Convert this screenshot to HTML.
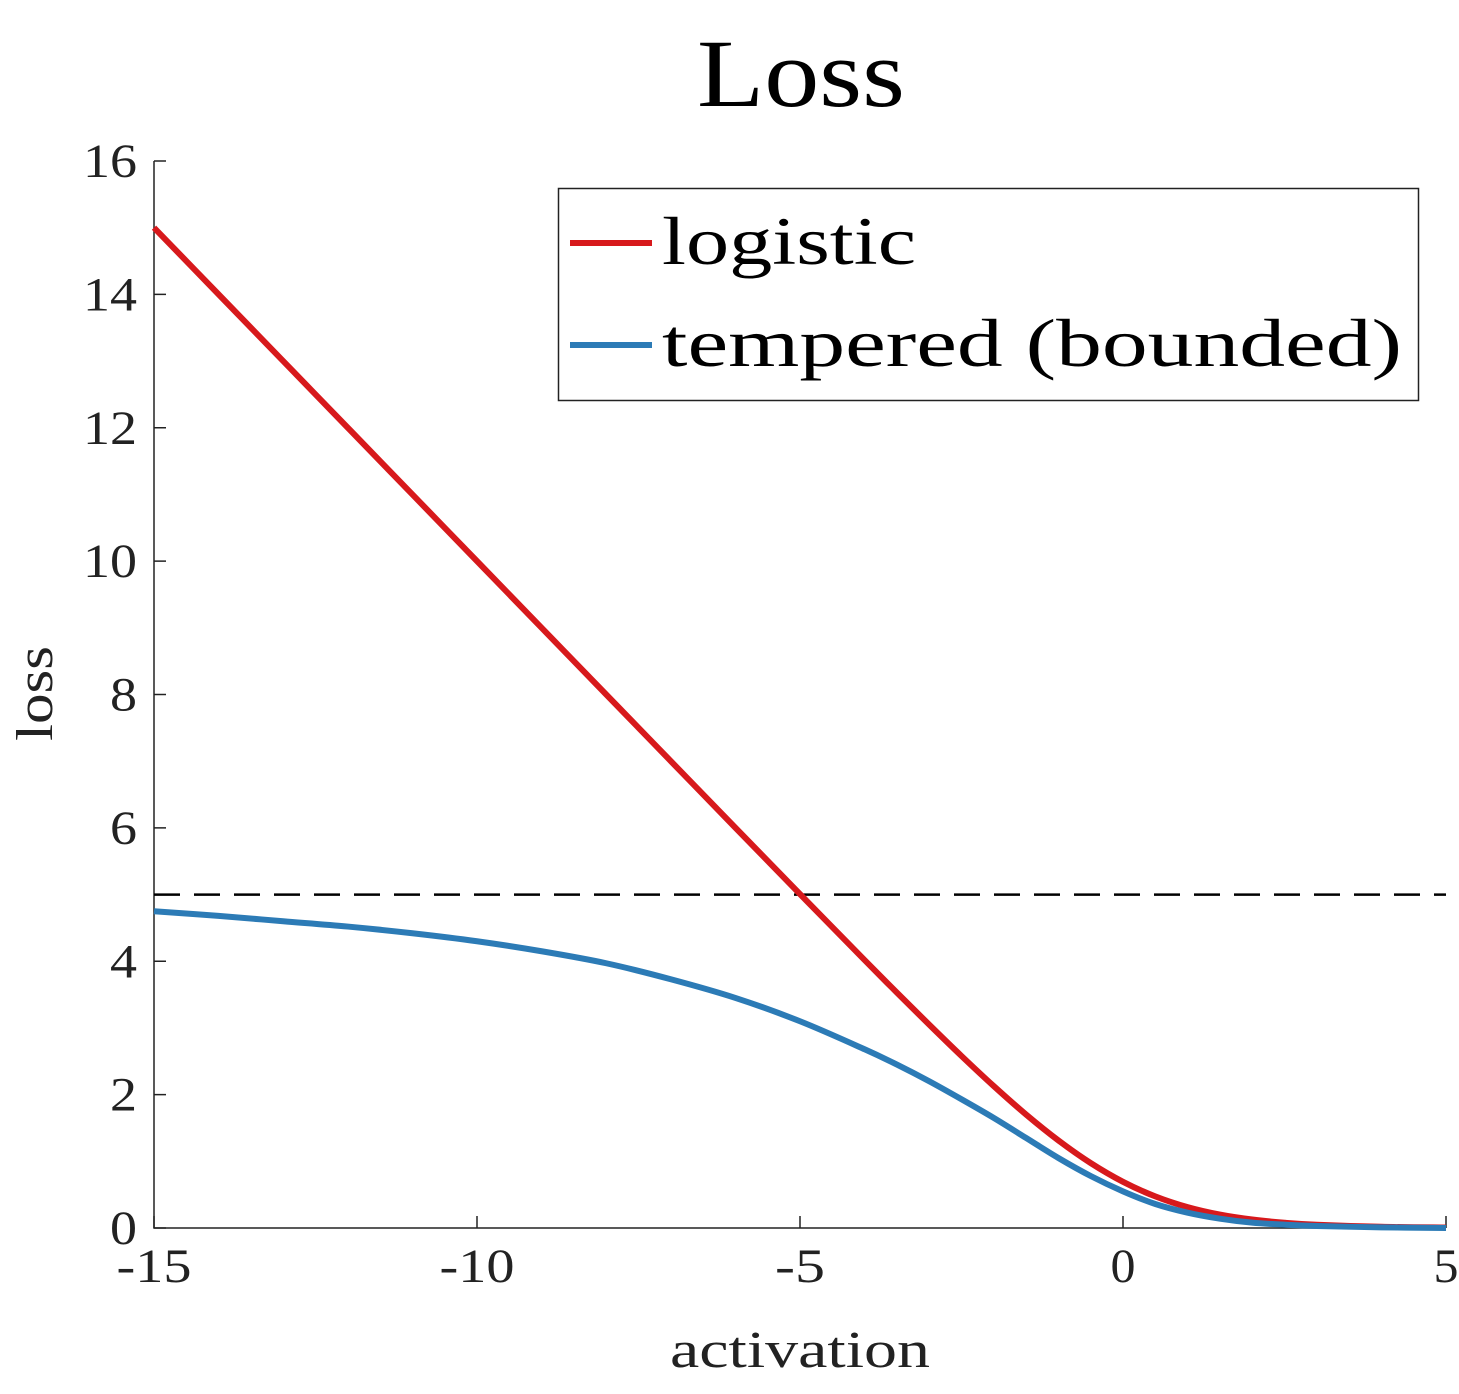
<!DOCTYPE html>
<html><head><meta charset="utf-8"><style>
body{margin:0;background:#fff}
svg text{font-family:"Liberation Serif",serif;fill:#222}
</style></head><body>
<svg id="chart" width="1459" height="1389" viewBox="0 0 1459 1389" xmlns="http://www.w3.org/2000/svg">
<text x="697" y="106" textLength="208" lengthAdjust="spacingAndGlyphs" font-size="96" style="fill:#000">Loss</text>
<g id="axes"></g>
<g id="plot"></g>
<text x="670" y="1367" textLength="260" lengthAdjust="spacingAndGlyphs" font-size="52">activation</text>
<text transform="translate(52,741) rotate(-90)" textLength="95" lengthAdjust="spacingAndGlyphs" font-size="52">loss</text>
<g>
<rect x="558.5" y="188.5" width="860" height="212" fill="#fff" stroke="#222" stroke-width="1.5"/>
<line x1="570" y1="243" x2="652" y2="243" stroke="#d7191c" stroke-width="6"/>
<text x="662" y="264" textLength="254" lengthAdjust="spacingAndGlyphs" font-size="68" style="fill:#000">logistic</text>
<line x1="570" y1="345" x2="652" y2="345" stroke="#2c7bb6" stroke-width="6"/>
<text x="662" y="366" textLength="740" lengthAdjust="spacingAndGlyphs" font-size="68" style="fill:#000">tempered (bounded)</text>
</g>
</svg>
<script>
const xValues=[-15,-14,-13,-12,-11,-10,-9,-8,-7,-6,-5,-4,-3.5,-3,-2.5,-2,-1.5,-1,-0.5,0,0.5,1,1.5,2,2.5,3,4,5];
const logisticValues=[15,14,13,12,11,10,9,8,7.001,6.002,5.007,4.018,3.53,3.049,2.579,2.127,1.701,1.313,0.974,0.693,0.474,0.313,0.201,0.127,0.079,0.049,0.018,0.007];
const temperedValues=[4.75,4.68,4.6,4.52,4.42,4.3,4.15,3.97,3.73,3.45,3.1,2.68,2.45,2.2,1.93,1.65,1.35,1.05,0.78,0.55,0.36,0.23,0.14,0.08,0.05,0.03,0.01,0.0];
const thresholdValue=5;
const xTicks=[-15,-10,-5,0,5];
const yTicks=[0,2,4,6,8,10,12,14,16];
const X=v=>154+(v+15)*(1446-154)/20;
const Y=v=>1228-v*(1228-161)/16;
const NS="http://www.w3.org/2000/svg";
const axes=document.getElementById('axes'),plot=document.getElementById('plot');
function mk(tag,attrs,parent){const e=document.createElementNS(NS,tag);for(const k in attrs)e.setAttribute(k,attrs[k]);parent.appendChild(e);return e;}
let a=mk('path',{d:`M${X(-15)},${Y(16)} V${Y(0)} H${X(5)}`,fill:'none',stroke:'#222','stroke-width':1.5},axes);


xTicks.forEach(t=>{
 const l=mk('line',{x1:X(t),x2:X(t),y1:Y(0),y2:Y(0)-12,stroke:'#222','stroke-width':1.5},axes);
 
 
 const s=String(t);
 const tx=mk('text',{x:X(t)-(s.length*25)/2,y:1282,textLength:s.length*25,lengthAdjust:'spacingAndGlyphs','font-size':48},axes);tx.textContent=s;
 
 
});
yTicks.forEach(t=>{
 const l=mk('line',{x1:X(-15),x2:X(-15)+12,y1:Y(t),y2:Y(t),stroke:'#222','stroke-width':1.5},axes);
 
 
 const s=String(t);
 const tx=mk('text',{x:137-s.length*27,y:Y(t)+16,textLength:s.length*27,lengthAdjust:'spacingAndGlyphs','font-size':48},axes);tx.textContent=s;
 
 
});
const dl=mk('line',{x1:X(-15),x2:X(5),y1:Y(thresholdValue),y2:Y(thresholdValue),stroke:'#000','stroke-width':2.5,'stroke-dasharray':'26 14'},plot);


function smooth(vals){const p=xValues.map((x,i)=>[X(x),Y(vals[i])]);let d=`M${p[0][0]},${p[0][1]}`;
 for(let i=0;i<p.length-1;i++){const p0=p[Math.max(0,i-1)],p1=p[i],p2=p[i+1],p3=p[Math.min(p.length-1,i+2)];
  const c1=[p1[0]+(p2[0]-p0[0])/6,p1[1]+(p2[1]-p0[1])/6],c2=[p2[0]-(p3[0]-p1[0])/6,p2[1]-(p3[1]-p1[1])/6];
  d+=` C${c1[0]},${c1[1]} ${c2[0]},${c2[1]} ${p2[0]},${p2[1]}`;}return d;}
const lr=mk('path',{d:smooth(logisticValues),fill:'none',stroke:'#d7191c','stroke-width':6},plot);


const lb=mk('path',{d:smooth(temperedValues),fill:'none',stroke:'#2c7bb6','stroke-width':6},plot);


</script>
</body></html>
